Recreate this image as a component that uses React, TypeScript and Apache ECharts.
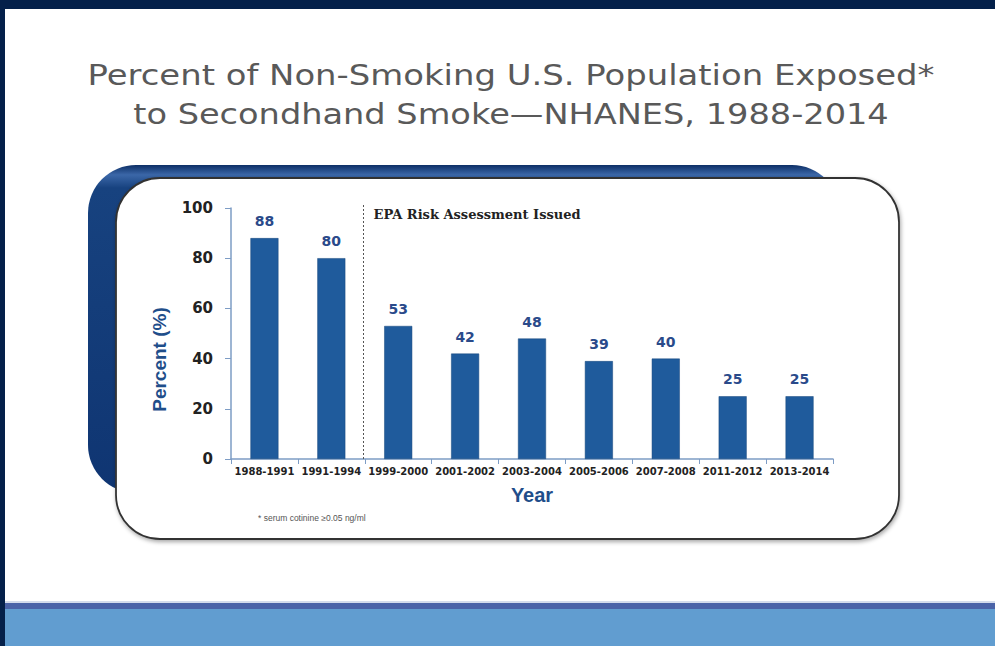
import React, { useEffect, useRef } from "react";
import * as echarts from "echarts";

const categories = ["1988-1991", "1991-1994", "1999-2000", "2001-2002", "2003-2004", "2005-2006", "2007-2008", "2011-2012", "2013-2014"];
const percentValues = [88, 80, 53, 42, 48, 39, 40, 25, 25];
const yTicks = { min: 0, max: 100, interval: 20 };
const titleLines = ["Percent of Non-Smoking U.S. Population Exposed*", "to Secondhand Smoke\u2014NHANES, 1988-2014"];
const annotationText = "EPA Risk Assessment Issued";
const footnoteText = "* serum cotinine \u22650.05 ng/ml";
const annotationAfterIndex = 1;

export default function App() {
  const ref = useRef<HTMLDivElement>(null);
  useEffect(() => {
    document.body.style.margin = "0";
    const chart = echarts.init(ref.current!, null, { renderer: "svg" });
    const baseGraphic: any[] = [
      { type: "rect", z: -10, shape: { x: 0, y: 0, width: 995, height: 9 }, style: { fill: "#04204a" } },
      { type: "rect", z: -10, shape: { x: 0, y: 0, width: 5, height: 646 }, style: { fill: "#04204a" } },
      { type: "rect", z: -10, shape: { x: 5, y: 601, width: 990, height: 2 }, style: { fill: "#d4dcec" } },
      { type: "rect", z: -10, shape: { x: 5, y: 603, width: 990, height: 6 }, style: { fill: "#4a63a8" } },
      { type: "rect", z: -10, shape: { x: 5, y: 609, width: 990, height: 37 }, style: { fill: "#619dd0" } },
      {
        type: "rect", z: -9,
        shape: { x: 88, y: 165, width: 752, height: 328, r: 48 },
        style: {
          fill: new echarts.graphic.LinearGradient(0, 0, 0, 1, [
            { offset: 0, color: "#0d2f66" },
            { offset: 0.03, color: "#3b67a8" },
            { offset: 0.07, color: "#17427f" },
            { offset: 1, color: "#0f3572" },
          ]),
        },
      },
      {
        type: "rect", z: -8,
        shape: { x: 116, y: 178, width: 783, height: 361, r: 44 },
        style: { fill: "#ffffff", stroke: "#333333", lineWidth: 1.8, shadowBlur: 4, shadowOffsetX: 1, shadowOffsetY: 2, shadowColor: "rgba(0,0,0,0.35)" },
      },
      {
        type: "text", z: 5, x: 511, y: 61, scaleX: 1.21,
        style: { text: titleLines[0], textAlign: "center", fill: "#595959", fontSize: 28, fontFamily: "DejaVu Sans" },
      },
      {
        type: "text", z: 5, x: 511, y: 100, scaleX: 1.2,
        style: { text: titleLines[1], textAlign: "center", fill: "#595959", fontSize: 28, fontFamily: "DejaVu Sans" },
      },
      {
        type: "text", z: 5, x: 258, y: 513,
        style: { text: footnoteText, fill: "#555555", fontSize: 8.5, fontFamily: "Liberation Sans" },
      },
    ];
    chart.setOption({
      animation: false,
      graphic: baseGraphic,
      grid: { left: 231, right: 162, top: 208, bottom: 187, containLabel: false },
      xAxis: {
        type: "category",
        data: categories,
        name: "Year",
        nameLocation: "middle",
        nameGap: 26,
        nameTextStyle: { color: "#1f4e8a", fontSize: 20, fontWeight: "bold", fontFamily: "Liberation Sans" },
        axisLine: { lineStyle: { color: "#7d9cc5", width: 1.5 } },
        axisTick: { show: true, length: 5, lineStyle: { color: "#7d9cc5" } },
        axisLabel: { interval: 0, margin: 7, color: "#222222", fontSize: 10, fontWeight: "bold", fontFamily: "DejaVu Sans" },
      },
      yAxis: {
        type: "value",
        min: yTicks.min,
        max: yTicks.max,
        interval: yTicks.interval,
        name: "Percent (%)",
        nameLocation: "middle",
        nameRotate: 90,
        nameGap: 62,
        nameTextStyle: { color: "#1f4e8a", fontSize: 19, fontWeight: "bold", fontFamily: "Liberation Sans", padding: [0, 52, 0, 0] },
        axisLine: { show: true, lineStyle: { color: "#7d9cc5", width: 1.5 } },
        axisTick: { show: true, length: 6, lineStyle: { color: "#7d9cc5" } },
        splitLine: { show: false },
        axisLabel: { margin: 18, color: "#222222", fontSize: 15, fontWeight: "bold", fontFamily: "DejaVu Sans" },
      },
      series: [
        {
          type: "bar",
          data: percentValues,
          barWidth: 28,
          itemStyle: { color: "#1f5b9c", borderColor: "#17477c", borderWidth: 0.5 },
          label: { show: true, position: "top", distance: 10, color: "#2a4a8a", fontSize: 14, fontWeight: "bold", fontFamily: "DejaVu Sans" },
        },
      ],
    });
    const x1 = chart.convertToPixel({ xAxisIndex: 0 }, categories[annotationAfterIndex]) as number;
    const x2 = chart.convertToPixel({ xAxisIndex: 0 }, categories[annotationAfterIndex + 1]) as number;
    const xm = Math.round((x1 + x2) / 2) - 1.5;
    const yTop = chart.convertToPixel({ yAxisIndex: 0 }, yTicks.max) as number;
    const yBot = chart.convertToPixel({ yAxisIndex: 0 }, yTicks.min) as number;
    chart.setOption({
      graphic: [
        ...baseGraphic,
        {
          type: "line", z: 5,
          shape: { x1: xm, y1: yTop - 3, x2: xm, y2: yBot },
          style: { stroke: "#555555", lineWidth: 1, lineDash: [2, 2] },
        },
        {
          type: "text", z: 5, x: xm + 10, y: yTop,
          style: { text: annotationText, fill: "#222222", fontSize: 13, fontWeight: "bold", fontFamily: "DejaVu Serif" },
        },
      ],
    });
    return () => chart.dispose();
  }, []);
  return <div ref={ref} style={{ width: 995, height: 646 }} />;
}
